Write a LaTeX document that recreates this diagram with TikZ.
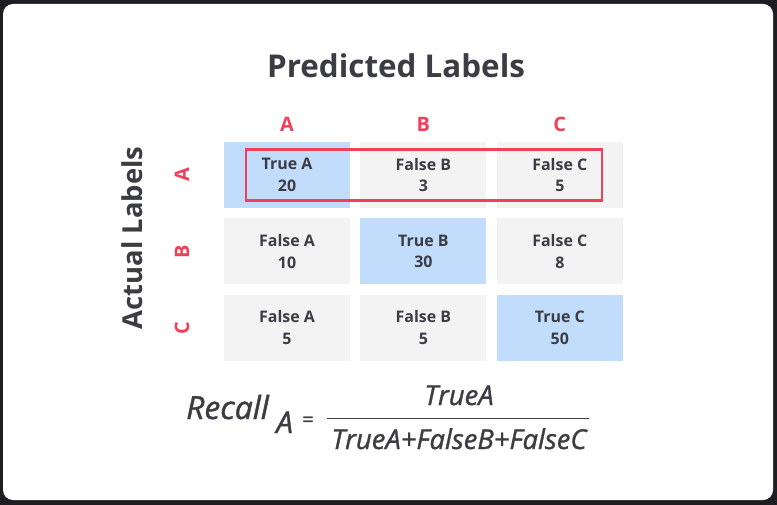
\documentclass[tikz,border=0pt]{standalone}
\usepackage{fontspec}
\setmainfont{Open Sans}
\newfontfamily\formulafont{Open Sans}[FakeBold=1.2]
\usetikzlibrary{positioning}
\definecolor{bgdark}{RGB}{30,30,34}
\definecolor{textgray}{RGB}{60,60,68}
\definecolor{labelred}{RGB}{240,64,90}
\definecolor{cellblue}{RGB}{194,220,252}
\definecolor{cellgray}{RGB}{243,243,243}

\tikzset{
    cell/.style={minimum width=126bp, minimum height=66bp, inner sep=0pt,
        align=center, text=textgray, font=\fontsize{16}{22}\selectfont\bfseries},
    hit/.style={cell, fill=cellblue},
    miss/.style={cell, fill=cellgray},
    letter/.style={text=labelred, inner sep=0pt, font=\fontsize{20}{20}\selectfont\bfseries},
    title/.style={text=textgray, inner sep=0pt, font=\fontsize{31.5}{31.5}\selectfont\bfseries},
    formula/.style={text=textgray, inner sep=0pt, font=\formulafont\fontsize{27.5}{27.5}\selectfont\itshape}
}

\begin{document}
\begin{tikzpicture}[x=1bp, y=-1bp, node distance=10bp]
    % card
    \fill[bgdark] (0,0) rectangle (777,505);
    \fill[white, rounded corners=10bp] (3,4) rectangle (773,500);

    \node[title, anchor=base] (pred) at (396,78) {Predicted Labels};
    \node[title, anchor=base, rotate=90, font=\fontsize{27.5}{27.5}\selectfont\bfseries] (act) at (142,238) {Actual Labels};

    % matrix cells
    \node[hit] (aa) at (287,175) {True A\\20};
    \node[miss, right=of aa] (ab) {False B\\3};
    \node[miss, right=of ab] (ac) {False C\\5};
    \node[miss, below=of aa] (ba) {False A\\10};
    \node[hit, right=of ba] (bb) {True B\\30};
    \node[miss, right=of bb] (bc) {False C\\8};
    \node[miss, below=of ba] (ca) {False A\\5};
    \node[miss, right=of ca] (cb) {False B\\5};
    \node[hit, right=of cb] (cc) {True C\\50};

    % column and row letters
    \foreach \c/\l in {a/A, b/B, c/C} {
        \node[letter] (col\c) at ([yshift=51bp]a\c.center) {\l};
        \node[letter, anchor=base, rotate=90] (row\c) at ([xshift=-98bp]\c a.center) {\l};
    }

    % recall row
    \draw[labelred, line width=2.4bp] (246,149.5) rectangle (602,200.5);

    % formula
    \node[formula, anchor=base west, font=\formulafont\fontsize{32}{32}\selectfont\itshape] (recall) at (186,419) {Recall};
    \node[formula, anchor=base west, font=\formulafont\fontsize{30}{30}\selectfont\itshape] (sub) at (276,433) {A};
    \node[text=textgray, inner sep=0pt, font=\formulafont\fontsize{20}{20}\selectfont] (eq) at (308,421.5) {=};
    \coordinate (barl) at (327,418.5);
    \coordinate (barr) at (589,418.5);
    \draw[textgray, line width=1.8bp] (barl) -- (barr);
    \node[formula, anchor=base] (num) at (459,405) {TrueA};
    \node[formula, anchor=base] (den) at (459,449) {TrueA+FalseB+FalseC};
\end{tikzpicture}
\end{document}
